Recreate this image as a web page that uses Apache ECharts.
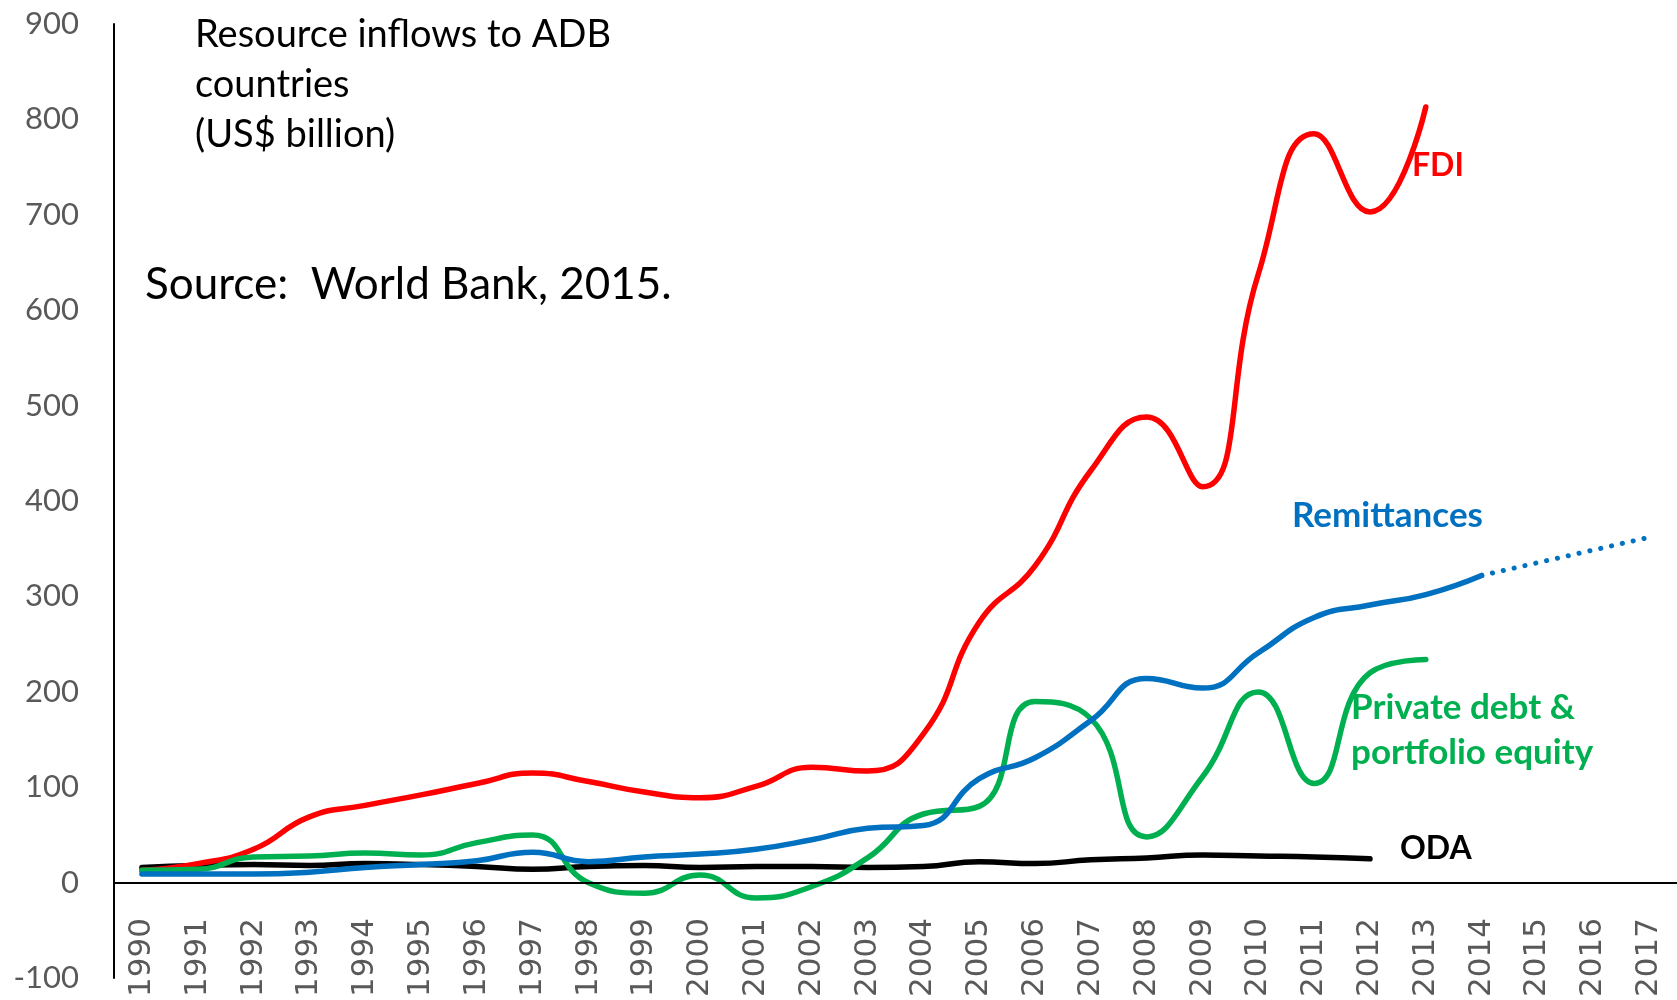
<!DOCTYPE html>
<html>
<head>
<meta charset="utf-8">
<script src="https://cdn.jsdelivr.net/npm/echarts@6/dist/echarts.min.js"></script>
<style>
  html, body { margin: 0; padding: 0; background: #fff; }
  #main { width: 1677px; height: 1000px; }
</style>
</head>
<body>
<div id="main"></div>
<script>
var years = ['1990','1991','1992','1993','1994','1995','1996','1997','1998','1999','2000','2001','2002','2003',
             '2004','2005','2006','2007','2008','2009','2010','2011','2012','2013','2014','2015','2016','2017'];

var fdi = [13, 20, 35, 69, 81, 92, 104, 115, 106, 95, 89, 101, 121, 117,
           156, 273, 332, 432, 488, 415, 638, 785, 703, 813];
var remittances = [9, 9, 9, 11, 16, 19, 23, 32, 22, 27, 30, 35, 45, 57,
                   60, 109, 131, 170, 214, 204, 241, 278, 291, 302, 322];
// dotted projection, 2014 to 2017
var remitProjection = [null, null, null, null, null, null, null, null, null, null, null, null, null, null,
                       null, null, null, null, null, null, null, null, null, null, 322, null, null, 362];
var privateFlows = [13, 14, 27, 28, 31, 29, 42, 50, 0, -11, 8, -16, -4, 26,
                    72, 80, 190, 172, 48, 111, 200, 104, 220, 234];
var oda = [16, 18, 19, 18, 20, 19, 17, 14, 17, 18, 16, 17, 17, 16,
           17, 22, 20, 24, 26, 29, 28, 27, 25];

var yMin = -100, yMax = 900, yStep = 100;

var RED = '#ff0000', BLUE = '#0070c0', GREEN = '#00b050', BLACK = '#000000';
var txtFont = 'Lato, "Open Sans", sans-serif';

function lineSeries(name, data, color) {
  return {
    name: name,
    type: 'line',
    data: data,
    smooth: 0.5,
    symbol: 'none',
    lineStyle: { color: color, width: 5.5, cap: 'round' },
    silent: true
  };
}

var chart = echarts.init(document.getElementById('main'));

var option = {
  animation: false,
  grid: { left: 114, right: 0, top: 24, bottom: 17 },
  xAxis: {
    type: 'category',
    data: years,
    boundaryGap: true,
    position: 'bottom',
    offset: -60,
    axisLine: { show: false },
    axisTick: { show: false },
    axisLabel: {
      rotate: 90,
      margin: 0,
      color: '#595959',
      fontFamily: '"DejaVu Sans", sans-serif',
      fontSize: 31,
      interval: 0
    }
  },
  yAxis: {
    type: 'value',
    min: yMin,
    max: yMax,
    interval: yStep,
    axisLine: { show: true, lineStyle: { color: BLACK, width: 2 } },
    axisTick: { show: false },
    splitLine: { show: false },
    axisLabel: {
      color: '#595959',
      fontFamily: txtFont,
      fontSize: 31,
      margin: 35
    }
  },
  series: [
    Object.assign(lineSeries('ODA', oda, BLACK), {
      markLine: {
        silent: true,
        symbol: 'none',
        label: { show: false },
        lineStyle: { color: BLACK, width: 2, type: 'solid' },
        data: [{ yAxis: 0 }]
      }
    }),
    lineSeries('FDI', fdi, RED),
    lineSeries('Private debt & portfolio equity', privateFlows, GREEN),
    lineSeries('Remittances', remittances, BLUE),
    {
      name: 'Remittances (projection)',
      type: 'line',
      data: remitProjection,
      connectNulls: true,
      symbol: 'none',
      silent: true,
      lineStyle: { color: BLUE, width: 5, type: [0.1, 11], cap: 'round' }
    }
  ],
  graphic: [
    {
      type: 'text', left: 195, top: 10,
      style: {
        text: 'Resource inflows to ADB\ncountries\n(US$ billion)',
        font: '38px ' + txtFont, fill: BLACK, lineHeight: 50
      }
    },
    {
      type: 'text', left: 145, top: 263,
      style: { text: 'Source:  World Bank, 2015.', font: '44px ' + txtFont, fill: BLACK }
    },
    {
      type: 'text', left: 1412, top: 150,
      style: { text: 'FDI', font: 'bold 32px ' + txtFont, fill: RED }
    },
    {
      type: 'text', left: 1292, top: 498,
      style: { text: 'Remittances', font: 'bold 35px ' + txtFont, fill: BLUE }
    },
    {
      type: 'text', left: 1351, top: 685,
      style: { text: 'Private debt &\nportfolio equity', font: 'bold 35px ' + txtFont, fill: GREEN, lineHeight: 45 }
    },
    {
      type: 'text', left: 1400, top: 833,
      style: { text: 'ODA', font: 'bold 32px ' + txtFont, fill: BLACK }
    }
  ]
};

chart.setOption(option);
</script>
</body>
</html>
